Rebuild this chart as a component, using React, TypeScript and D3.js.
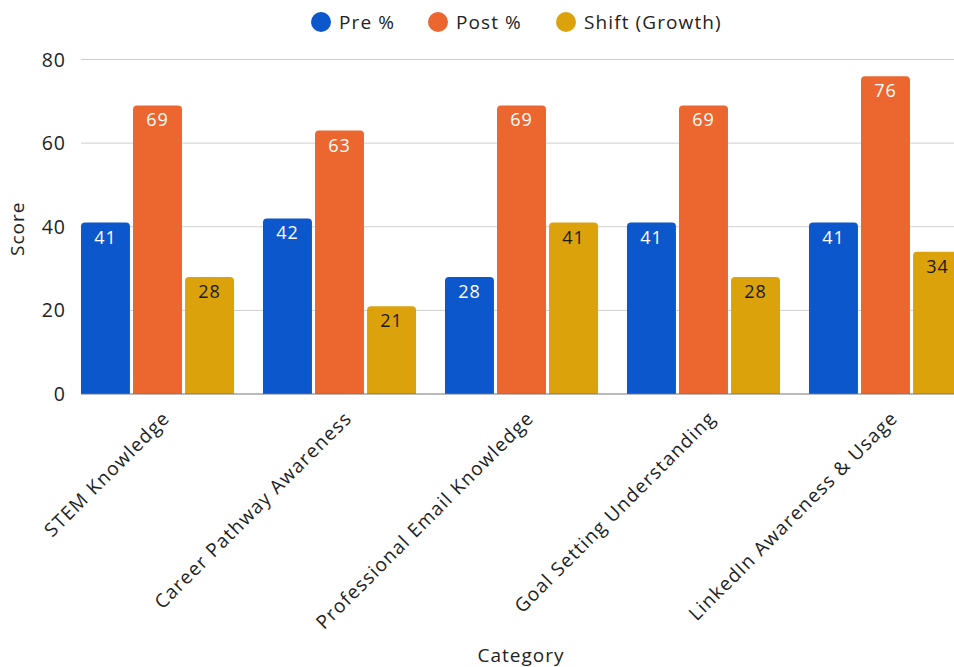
import React from "react";
import * as d3 from "d3";

const categories = [
  "STEM Knowledge",
  "Career Pathway Awareness",
  "Professional Email Knowledge",
  "Goal Setting Understanding",
  "LinkedIn Awareness & Usage",
];
const seriesNames = ["Pre %", "Post %", "Shift (Growth)"];
const preValues = [41, 42, 28, 41, 41];
const postValues = [69, 63, 69, 69, 76];
const shiftValues = [28, 21, 41, 28, 34];
const yTicks = [0, 20, 40, 60, 80];

const colors = ["#0b57cb", "#eb672f", "#dca20b"];
const labelColors = ["#ffffff", "#ffffff", "#1a1a1a"];

const W = 954;
const H = 667;
const FONT = "'Open Sans', sans-serif";

export default function App() {
  const seriesValues = [preValues, postValues, shiftValues];
  const y = d3.scaleLinear().domain([0, 80]).range([394, 59.5]);
  const x = d3
    .scaleBand<string>()
    .domain(categories)
    .range([66.5, 976.5])
    .paddingInner(0.159)
    .paddingOuter(0.0795);
  const xs = d3
    .scaleBand<string>()
    .domain(seriesNames)
    .range([0, x.bandwidth()])
    .paddingInner(0.059)
    .paddingOuter(0);
  const plotLeft = 81;
  const r = 4;

  const barPath = (x0: number, w: number, y0: number, y1: number) => {
    const p = d3.path();
    p.moveTo(x0, y1);
    p.lineTo(x0, y0 + r);
    p.arcTo(x0, y0, x0 + r, y0, r);
    p.lineTo(x0 + w - r, y0);
    p.arcTo(x0 + w, y0, x0 + w, y0 + r, r);
    p.lineTo(x0 + w, y1);
    p.closePath();
    return p.toString();
  };

  const legendX = [321, 438, 566];

  return (
    <svg
      width={W}
      height={H}
      style={{ position: "absolute", left: 0, top: 0, background: "#fff", fontFamily: FONT }}
    >
      {/* legend */}
      {seriesNames.map((s, i) => (
        <g key={s}>
          <circle cx={legendX[i]} cy={22} r={10} fill={colors[i]} />
          <text x={legendX[i] + 18} y={29} fontSize={19} letterSpacing={1.1} fill="#222">
            {s}
          </text>
        </g>
      ))}

      {/* grid */}
      {yTicks.map((t) => (
        <g key={t}>
          {t > 0 && (
            <line x1={plotLeft} x2={W} y1={y(t)} y2={y(t)} stroke="#cfcfcf" strokeWidth={1} />
          )}
          <text
            x={66}
            y={y(t) + 7}
            fontSize={19.5}
            letterSpacing={1}
            textAnchor="end"
            fill="#222"
          >
            {t}
          </text>
        </g>
      ))}

      {/* bars */}
      {categories.map((c, ci) => (
        <g key={c}>
          {seriesNames.map((s, si) => {
            const v = seriesValues[si][ci];
            const bx = (x(c) ?? 0) + (xs(s) ?? 0);
            const bw = xs.bandwidth();
            return (
              <g key={s}>
                <path d={barPath(bx, bw, y(v), y(0))} fill={colors[si]} />
                <text
                  x={bx + bw / 2}
                  y={y(v) + 21}
                  fontSize={18}
                  letterSpacing={0.9}
                  textAnchor="middle"
                  fill={labelColors[si]}
                >
                  {v}
                </text>
              </g>
            );
          })}
        </g>
      ))}

      {/* baseline */}
      <line x1={plotLeft} x2={W} y1={y(0)} y2={y(0)} stroke="#777" strokeWidth={1.2} />

      {/* category labels */}
      {categories.map((c) => {
        const cx = (x(c) ?? 0) + x.bandwidth() / 2;
        return (
          <text
            key={c}
            transform={`translate(${cx + 4},${410}) rotate(-45)`}
            textAnchor="end"
            fontSize={19}
            letterSpacing={1.2}
            dy="0.7em"
            fill="#222"
          >
            {c}
          </text>
        );
      })}

      {/* axis titles */}
      <text
        transform={`translate(${24},${y(40) + 2}) rotate(-90)`}
        textAnchor="middle"
        fontSize={19}
        letterSpacing={1}
        fill="#222"
      >
        Score
      </text>
      <text x={521} y={662} textAnchor="middle" fontSize={19} letterSpacing={1} fill="#222">
        Category
      </text>
    </svg>
  );
}
